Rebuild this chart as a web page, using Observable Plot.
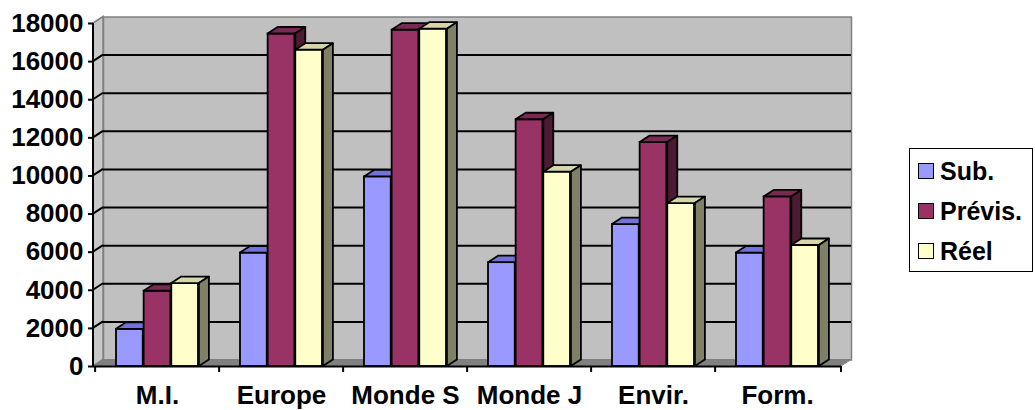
<!DOCTYPE html>
<html><head><meta charset="utf-8">
<script src="https://cdn.jsdelivr.net/npm/d3@7"></script>
<script src="https://cdn.jsdelivr.net/npm/@observablehq/plot@0.6"></script>
<style>
body{margin:0;background:#fff;font-family:"Liberation Sans",Arial,sans-serif;}
#wrap{position:relative;width:1035px;height:410px;}
#legend{position:absolute;left:909px;top:148px;width:124px;height:124px;border:1.5px solid #000;box-sizing:border-box;padding-top:2px;background:#fff;}
.item{display:flex;align-items:center;height:40px;padding-left:8px;font-weight:bold;font-size:25px;color:#000;white-space:nowrap;}
.sw{width:14px;height:14px;border:1.5px solid #000;margin-right:6px;flex:none;}
</style></head>
<body><div id="wrap"><div id="chart"></div><div id="legend"></div></div>
<script>
const categories = ["M.I.", "Europe", "Monde S", "Monde J", "Envir.", "Form."];
const series = ["Sub.", "Prévis.", "Réel"];
const sub    = [1950, 5950, 9950, 5450, 7450, 5950];
const previs = [3950, 17450, 17650, 12950, 11750, 8900];
const reel   = [4350, 16600, 17700, 10200, 8550, 6350];
const yTicks = [0, 2000, 4000, 6000, 8000, 10000, 12000, 14000, 16000, 18000];

const seriesValues = [sub, previs, reel];
const frontColors = ["#9999ff", "#993366", "#ffffcc"];
const topColors   = ["#7373d6", "#7a2952", "#d6d6a8"];
const sideColors  = ["#4d4d80", "#4d1a33", "#808066"];

const data = series.flatMap((s, i) => categories.map((c, j) => ({cat: c, series: s, value: seriesValues[i][j]})));

const W = 1035, H = 410, mL = 93, mR = 194, mT = 23, mB = 44, D = 10, E = 6.5;
const pIn = 0.335;
const step = (W - mL - mR) / categories.length;
const bw = step * (1 - pIn);
const sw = bw / 3;
const FS = 26;

const chart = Plot.plot({
  width: W, height: H,
  marginLeft: mL, marginRight: mR, marginTop: mT, marginBottom: mB,
  style: {background: "#fff", fontFamily: "'Liberation Sans', Arial, sans-serif", overflow: "visible"},
  x: {domain: categories, paddingInner: pIn, paddingOuter: pIn / 2, label: null},
  y: {domain: [0, 18000], label: null},
  marks: [
    Plot.frame({fill: "#c0c0c0", stroke: "#808080", strokeWidth: 1.5, dx: D, dy: -E}),
    Plot.ruleY(yTicks.filter(v => v > 0 && v < 18000), {y: d => d, dx: D, dy: -E, stroke: "#000", strokeWidth: 2}),
    ...series.map((s, i) => Plot.barY(data.filter(d => d.series === s), {
      x: "cat", y: "value", fill: frontColors[i], stroke: "#000", strokeWidth: 1.8,
      insetLeft: i * sw, insetRight: (2 - i) * sw
    })),
    Plot.ruleY([0], {stroke: "#000", strokeWidth: 2}),
    Plot.axisY({ticks: yTicks, tickSize: 5, tickPadding: 5, fontSize: FS, fontWeight: "bold", tickFormat: d => String(d), strokeWidth: 2, label: null}),
    Plot.axisX({tickSize: 0, tickPadding: 19, fontSize: FS, fontWeight: "bold", label: null})
  ]
});
document.getElementById("chart").appendChild(chart);

const xs = chart.scale("x"), ys = chart.scale("y");
const svg = d3.select(chart);
const y0 = ys.apply(0), yTop = ys.apply(18000);
const xL = mL, xR = W - mR;
const pts = a => a.map(p => p.join(",")).join(" ");

// walls & floor, inserted after the back wall frame
const frameNode = chart.querySelector('[aria-label="frame"]');
const walls = document.createElementNS("http://www.w3.org/2000/svg", "g");
frameNode.parentNode.insertBefore(walls, frameNode.nextSibling);
const gw = d3.select(walls);
gw.append("polygon").attr("points", pts([[xL, yTop], [xL + D, yTop - E], [xL + D, y0 - E], [xL, y0]]))
  .attr("fill", "#c8c8c8").attr("stroke", "#808080").attr("stroke-width", 1.5);
gw.append("polygon").attr("points", pts([[xL, y0], [xR, y0], [xR + D, y0 - E], [xL + D, y0 - E]]))
  .attr("fill", "#808080").attr("stroke", "#808080").attr("stroke-width", 1);
yTicks.filter(v => v > 0 && v < 18000).forEach(v => {
  gw.append("line").attr("x1", xL).attr("y1", ys.apply(v)).attr("x2", xL + D).attr("y2", ys.apply(v) - E)
    .attr("stroke", "#000").attr("stroke-width", 2);
});

// 3D faces for each series, layered after that series' front faces
const barGroups = chart.querySelectorAll('g[aria-label="bar"]');
series.forEach((s, i) => {
  const node = barGroups[i];
  const g = document.createElementNS("http://www.w3.org/2000/svg", "g");
  node.parentNode.insertBefore(g, node.nextSibling);
  const gg = d3.select(g);
  data.filter(d => d.series === s).forEach(d => {
    const x0 = xs.apply(d.cat) + i * sw, x1 = x0 + sw, yt = ys.apply(d.value);
    gg.append("polygon").attr("points", pts([[x0, yt], [x1, yt], [x1 + D, yt - E], [x0 + D, yt - E]]))
      .attr("fill", topColors[i]).attr("stroke", "#000").attr("stroke-width", 1.8).attr("stroke-linejoin", "round");
    gg.append("polygon").attr("points", pts([[x1, yt], [x1 + D, yt - E], [x1 + D, y0 - E], [x1, y0]]))
      .attr("fill", sideColors[i]).attr("stroke", "#000").attr("stroke-width", 1.8).attr("stroke-linejoin", "round");
  });
});

// axis lines and category boundary ticks
const axes = svg.append("g").attr("stroke", "#000").attr("stroke-width", 2);
axes.append("line").attr("x1", xL).attr("x2", xL).attr("y1", yTop).attr("y2", y0 + 1);
categories.forEach(c => {
  const xb = xs.apply(c) - step * pIn / 2;
  axes.append("line").attr("x1", xb).attr("x2", xb).attr("y1", y0).attr("y2", y0 + 6);
});
axes.append("line").attr("x1", xR).attr("x2", xR).attr("y1", y0).attr("y2", y0 + 6);

// legend
const legend = d3.select("#legend");
series.forEach((s, i) => {
  const it = legend.append("div").attr("class", "item");
  it.append("div").attr("class", "sw").style("background", frontColors[i]);
  it.append("span").text(s);
});
</script>
</body></html>
